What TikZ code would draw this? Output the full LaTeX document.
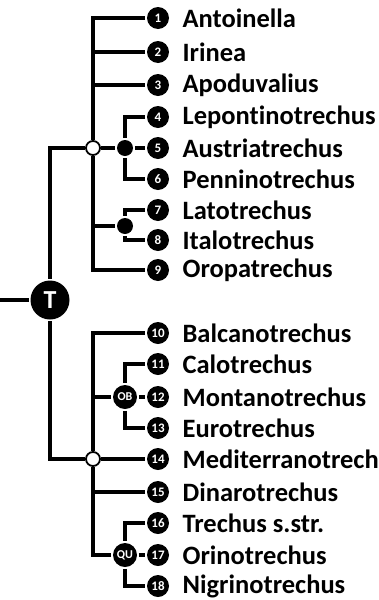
\documentclass[tikz,border=0pt]{standalone}
\usepackage{fontspec}
\setmainfont{Carlito}[Ligatures=NoCommon]
\usetikzlibrary{positioning}
\tikzset{
  treefig/.style={x=1pt, y=-1pt, line width=3.6pt},
  leafnum/.style={circle, fill=black, text=white, inner sep=0pt,
    minimum size=22pt, font=\bfseries\fontsize{13}{14}\selectfont},
  leafname/.style={inner sep=0pt, font=\bfseries\fontsize{26.5}{28}\selectfont},
  opendot/.style={circle, draw=black, fill=white, line width=1.8pt,
    inner sep=0pt, minimum size=14pt},
  blackdot/.style={circle, fill=black, inner sep=0pt, minimum size=16pt},
  cladetag/.style={circle, fill=black, text=white, inner sep=0pt,
    minimum size=24pt, font=\bfseries\fontsize{12}{13}\selectfont},
  roottag/.style={circle, fill=black, text=white, inner sep=0pt,
    minimum size=39pt, font=\bfseries\fontsize{26}{28}\selectfont},
}
\def\RootX{50}
\def\SpineX{93}
\def\SubX{125}
\def\LeafX{158}

\begin{document}
\begin{tikzpicture}[treefig]
  \useasboundingbox (0,0) rectangle (379,600);
  \clip (0,0) rectangle (379,600);

  % ----- leaves: number disc + genus name -----
  \foreach \n/\y/\genus in {1/18/Antoinella, 2/52/Irinea, 3/85/Apoduvalius,
      4/117/Lepontinotrechus, 5/148/Austriatrechus, 6/179/Penninotrechus,
      7/210/Latotrechus, 8/240/Italotrechus, 9/270/Oropatrechus,
      10/333/Balcanotrechus, 11/364/Calotrechus, 12/397/Montanotrechus,
      13/428/Eurotrechus, 14/459/Mediterranotrechus, 15/492/Dinarotrechus,
      16/523/Trechus s.str., 17/555/Orinotrechus, 18/586/Nigrinotrechus}{
    \node[leafnum] (L\n) at (\LeafX, \y) {\n};
    \node[leafname, right=10pt of L\n] (N\n) {\genus};
  }

  % ----- inner nodes -----
  \node[roottag] (T) at (\RootX, 300) {T};
  \coordinate (root) at (0, 300);
  \node[opendot] (oU) at (\SpineX, 148) {};
  \node[opendot] (oL) at (\SpineX, 459) {};
  \node[blackdot] (d46) at (\SubX, 148) {};
  \node[blackdot] (d78) at (\SubX, 226) {};
  \node[cladetag] (OB) at (\SubX, 397) {OB};
  \node[cladetag] (QU) at (\SubX, 555) {QU};

  % ----- root -----
  \draw (root) -- (T);
  \draw (oU) -| (T);
  \draw (oL) -| (T);

  % ----- upper clade -----
  \draw (L1) -| (oU);
  \draw (L2) -- (L2 -| oU);
  \draw (L3) -- (L3 -| oU);
  \draw (L9) -| (oU);
  \draw (oU) -- (d46) -- (L5);
  \draw (L4) -| (d46) |- (L6);
  \draw (L7) -| (d78) |- (L8);
  \draw (d78) -- (d78 -| oU);

  % ----- lower clade -----
  \draw (L10) -| (oL);
  \draw (QU) -| (oL);
  \draw (oL) -- (L14);
  \draw (L15) -- (L15 -| oL);
  \draw (OB) -- (OB -| oL);
  \draw (L11) -| (OB) |- (L13);
  \draw (OB) -- (L12);
  \draw (L16) -| (QU) |- (L18);
  \draw (QU) -- (L17);
\end{tikzpicture}
\end{document}
